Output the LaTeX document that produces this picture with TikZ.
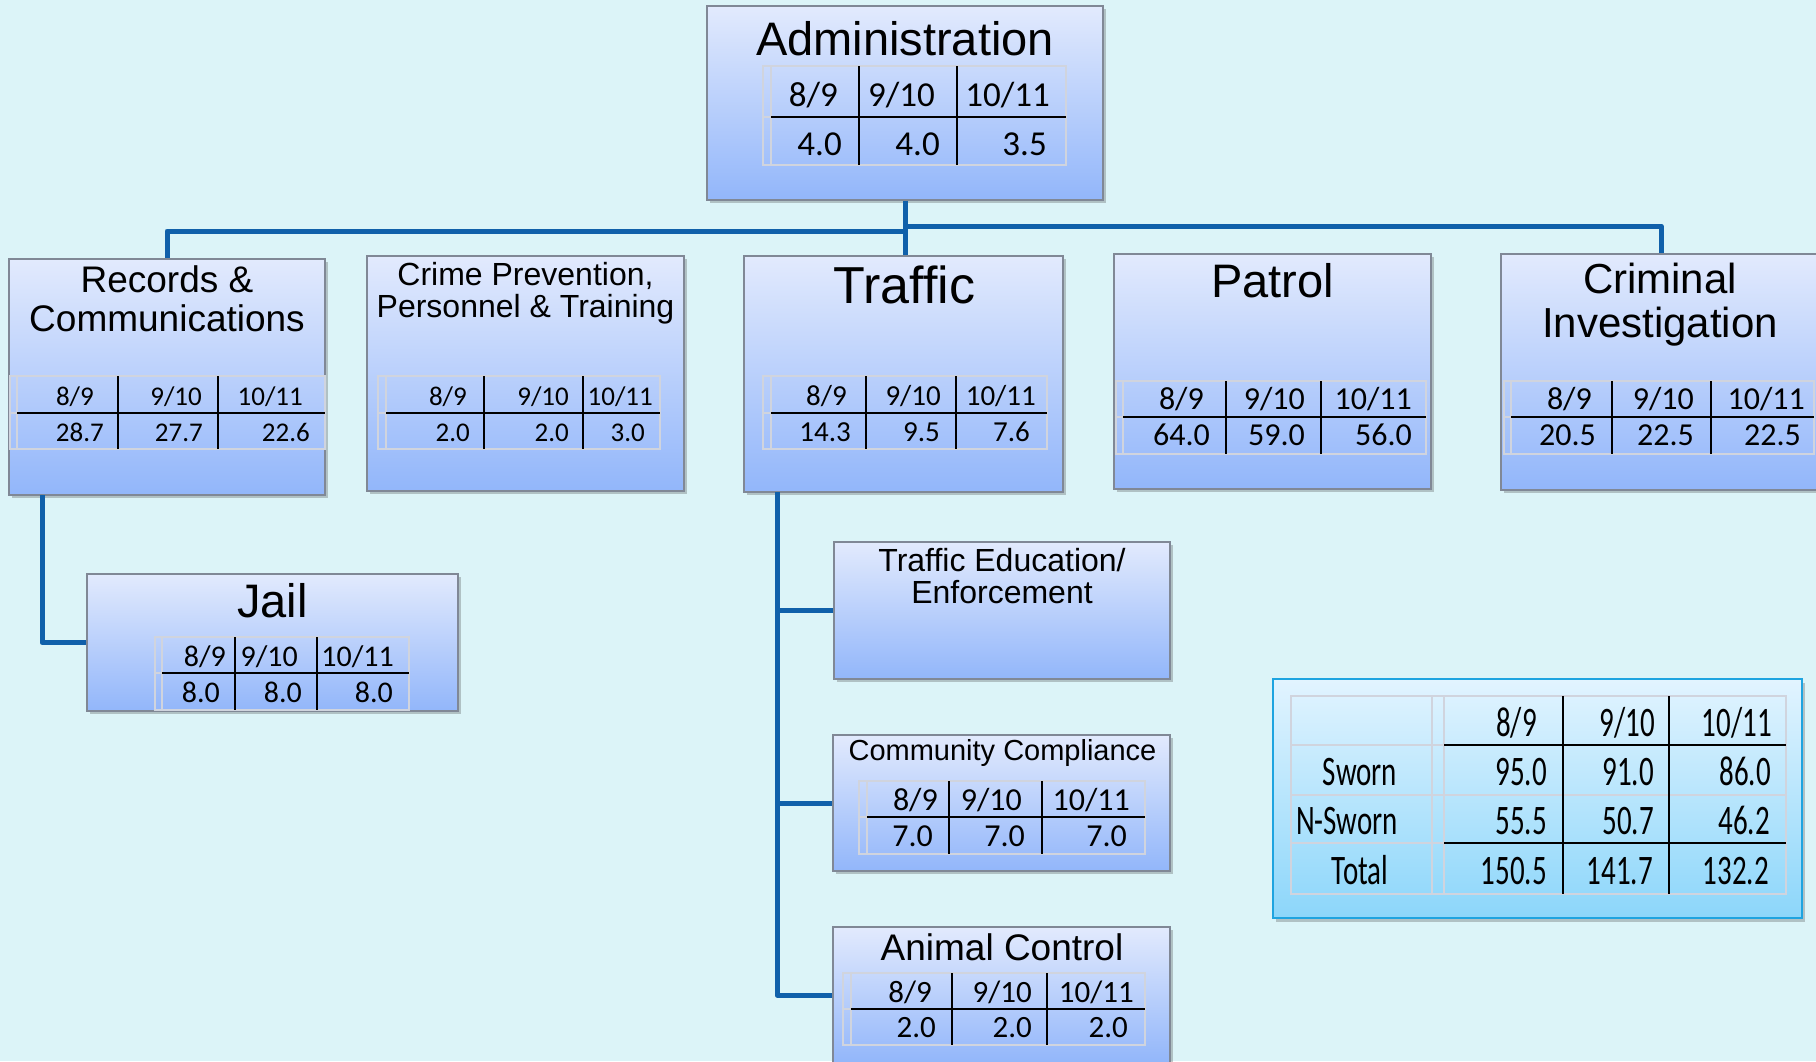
\documentclass[tikz,border=0pt]{standalone}
\usepackage{fontspec}
\setmainfont{Liberation Sans}
\newfontfamily\calf{Carlito}
\usetikzlibrary{shadows}
\definecolor{bgc}{RGB}{220,244,248}
\definecolor{boxtop}{RGB}{226,234,253}
\definecolor{boxbot}{RGB}{146,182,250}
\definecolor{boxline}{RGB}{128,136,150}
\definecolor{connc}{RGB}{16,96,170}
\definecolor{tgray}{RGB}{208,212,222}
\definecolor{sumtop}{RGB}{226,244,255}
\definecolor{sumbot}{RGB}{140,214,250}
\definecolor{sumline}{RGB}{30,164,224}
\tikzset{
  dept/.style={draw=boxline, line width=1.5pt, top color=boxtop, bottom color=boxbot,
    inner sep=0pt, drop shadow={shadow xshift=3pt, shadow yshift=-3pt, opacity=0.3, fill=black!70}},
  sumbox/.style={draw=sumline, line width=2pt, top color=sumtop, bottom color=sumbot,
    inner sep=0pt, drop shadow={shadow xshift=3pt, shadow yshift=-4pt, opacity=0.3, fill=black!70}},
  conn/.style={draw=connc, line width=5pt, line join=round},
  ttl/.style={anchor=base, inner sep=0pt},
  cell/.style={anchor=base east, inner sep=0pt},
  lbl/.style={anchor=base, inner sep=0pt},
  tgrayline/.style={draw=tgray, line width=2pt},
  tblackline/.style={draw=black, line width=2.2pt},
}
% grid: left, narrow col, right, top, mid, bottom, div1, div2
\newcommand\gridtab[8]{%
  \draw[tgrayline] (#1,#4) rectangle (#3,#6);
  \draw[tgrayline] (#2,#4) -- (#2,#6);
  \draw[tgrayline] (#1,#5) -- (#2,#5);
  \draw[tblackline] (#2,#5) -- (#3,#5);
  \draw[tblackline] (#7,#4) -- (#7,#6);
  \draw[tblackline] (#8,#4) -- (#8,#6);
}
% cells: prefix, size, y, x1, t1, x2, t2, x3, t3
\newcommand\cells[9]{%
  \node[cell, font=\calf\fontsize{#2}{#2}\selectfont] (#1a) at (#4,#3) {#5};
  \node[cell, font=\calf\fontsize{#2}{#2}\selectfont] (#1b) at (#6,#3) {#7};
  \node[cell, font=\calf\fontsize{#2}{#2}\selectfont] (#1c) at (#8,#3) {#9};
}
\newcommand\sumtxt[1]{\scalebox{0.69}[1]{#1}}
\begin{document}
\begin{tikzpicture}[x=1pt,y=-1pt]
\path[use as bounding box, fill=bgc] (0,0) rectangle (1816,1061);

% ---------- connector junctions ----------
\coordinate (busL) at (905,231);
\coordinate (busR) at (905,226);
\coordinate (recdrop) at (42,495);
\coordinate (trdrop) at (777,492);

% ---------- boxes ----------
\node[dept, minimum width=396pt, minimum height=194pt] (admin) at (905,103) {};
\node[dept, minimum width=316pt, minimum height=236pt] (records) at (167,377) {};
\node[dept, minimum width=317pt, minimum height=235pt] (crime) at (525.5,373.5) {};
\node[dept, minimum width=319pt, minimum height=236pt] (traffic) at (903.5,374) {};
\node[dept, minimum width=317pt, minimum height=235pt] (patrol) at (1272.5,371.5) {};
\node[dept, minimum width=317pt, minimum height=236pt] (crim) at (1659.5,372) {};
\node[dept, minimum width=371pt, minimum height=137pt] (jail) at (272.5,642.5) {};
\node[dept, minimum width=336pt, minimum height=137pt] (tedu) at (1002,610.5) {};
\node[dept, minimum width=337pt, minimum height=136pt] (cc) at (1001.5,803) {};
\node[dept, minimum width=337pt, minimum height=136pt] (animal) at (1001.5,995) {};
\node[sumbox, minimum width=529pt, minimum height=239pt] (summary) at (1537.5,798.5) {};

% connectors
\draw[conn] (admin.south) -- (admin.south |- traffic.north);
\draw[conn] (busL) -| (records.north);
\draw[conn] (busR) -| ([xshift=1.5pt]crim.north);
\draw[conn] (recdrop) |- (jail.west);
\draw[conn] (trdrop) |- (tedu.west);
\draw[conn] (trdrop) |- (cc.west);
\draw[conn] (trdrop) |- (animal.west);

% ---------- Administration ----------
\node[ttl, font=\fontsize{47}{47}\selectfont] (admint) at (905,55) {Administration};
\gridtab{763}{771}{1066}{66}{117}{165}{859}{957}
\cells{admh}{35}{106}{838}{8/9}{935}{9/10}{1050}{10/11}
\cells{admv}{35}{155}{842}{4.0}{940}{4.0}{1047}{3.5}

% ---------- Records ----------
\node[ttl, font=\fontsize{37}{37}\selectfont] (rect1) at (167,292) {Records \&};
\node[ttl, font=\fontsize{37}{37}\selectfont] (rect2) at (167,331) {Communications};
\gridtab{10}{17}{325}{376}{413}{449}{118}{218}
\cells{rech}{27}{405}{94}{8/9}{202}{9/10}{303}{10/11}
\cells{recv}{27}{441}{104}{28.7}{203}{27.7}{310}{22.6}

% ---------- Crime Prevention ----------
\node[ttl, font=\fontsize{32}{32}\selectfont] (crt1) at (525.5,285) {Crime Prevention,};
\node[ttl, font=\fontsize{32}{32}\selectfont] (crt2) at (525.5,317) {Personnel \& Training};
\gridtab{378}{386}{660}{376}{413}{449}{484}{583}
\cells{crh}{27}{405}{467}{8/9}{569}{9/10}{653}{10/11}
\cells{crv}{27}{441}{470}{2.0}{569}{2.0}{645}{3.0}

% ---------- Traffic ----------
\node[ttl, font=\fontsize{52}{52}\selectfont] (trt) at (904.5,303) {Traffic};
\gridtab{763}{771}{1047}{376}{413}{449}{866}{956}
\cells{trh}{29}{405}{847}{8/9}{941}{9/10}{1036}{10/11}
\cells{trv}{29}{441}{851}{14.3}{940}{9.5}{1030}{7.6}

% ---------- Patrol ----------
\node[ttl, font=\fontsize{47}{47}\selectfont] (pat) at (1272.5,297) {Patrol};
\gridtab{1116}{1123}{1426}{381}{417}{454}{1226}{1321}
\cells{path}{32}{409}{1204}{8/9}{1305}{9/10}{1412}{10/11}
\cells{patv}{32}{445}{1210}{64.0}{1305}{59.0}{1412}{56.0}

% ---------- Criminal Investigation ----------
\node[ttl, font=\fontsize{42}{42}\selectfont] (cit1) at (1660,293) {Criminal};
\node[ttl, font=\fontsize{42}{42}\selectfont] (cit2) at (1660,337) {Investigation};
\gridtab{1504}{1511}{1814}{381}{417}{454}{1612}{1711}
\cells{cih}{32}{409}{1592}{8/9}{1694}{9/10}{1805}{10/11}
\cells{civ}{32}{445}{1596}{20.5}{1694}{22.5}{1801}{22.5}

% ---------- Jail ----------
\node[ttl, font=\fontsize{47}{47}\selectfont] (jat) at (272.5,617) {Jail};
\gridtab{155}{162}{409}{637}{673}{710}{235}{317}
\cells{jah}{30}{666}{226}{8/9}{298}{9/10}{394}{10/11}
\cells{jav}{30}{702}{220}{8.0}{302}{8.0}{393}{8.0}

% ---------- Traffic Education ----------
\node[ttl, font=\fontsize{32}{32}\selectfont] (tet1) at (1002,571) {Traffic Education/};
\node[ttl, font=\fontsize{32}{32}\selectfont] (tet2) at (1002,603) {Enforcement};

% ---------- Community Compliance ----------
\node[ttl, font=\fontsize{29}{29}\selectfont] (cct) at (1002.5,760) {Community Compliance};
\gridtab{859}{867}{1145}{781}{817}{854}{949}{1042}
\cells{cch}{32}{810}{938}{8/9}{1022}{9/10}{1130}{10/11}
\cells{ccv}{32}{846}{933}{7.0}{1025}{7.0}{1127}{7.0}

% ---------- Animal Control ----------
\node[ttl, font=\fontsize{37}{37}\selectfont] (act) at (1002,960) {Animal Control};
\gridtab{843}{851}{1145}{973}{1009}{1045}{952}{1047}
\cells{ach}{31}{1002}{932}{8/9}{1032}{9/10}{1134}{10/11}
\cells{acv}{31}{1037}{936}{2.0}{1032}{2.0}{1128}{2.0}

% ---------- Summary table ----------
\draw[tgrayline] (1291,696) rectangle (1786,894);
\draw[tgrayline] (1291,745) -- (1786,745);
\draw[tgrayline] (1291,795) -- (1786,795);
\draw[tgrayline] (1291,843) -- (1786,843);
\draw[tgrayline] (1432,696) -- (1432,894);
\draw[tgrayline] (1444,696) -- (1444,894);
\draw[tblackline] (1444,745) -- (1786,745);
\draw[tblackline] (1444,843) -- (1786,843);
\draw[tblackline] (1563,696) -- (1563,894);
\draw[tblackline] (1669,696) -- (1669,894);
\begin{scope}[every node/.append style={font=\calf\fontsize{42}{42}\selectfont}]
\node[cell] (sh1) at (1537,736) {\sumtxt{8/9}};
\node[cell] (sh2) at (1655,736) {\sumtxt{9/10}};
\node[cell] (sh3) at (1772,736) {\sumtxt{10/11}};
\node[lbl] (sl1) at (1360,785) {\sumtxt{Sworn}};
\node[cell] (s11) at (1547,785) {\sumtxt{95.0}};
\node[cell] (s12) at (1654,785) {\sumtxt{91.0}};
\node[cell] (s13) at (1771,785) {\sumtxt{86.0}};
\node[lbl] (sl2) at (1347,834) {\sumtxt{N-Sworn}};
\node[cell] (s21) at (1547,834) {\sumtxt{55.5}};
\node[cell] (s22) at (1654,834) {\sumtxt{50.7}};
\node[cell] (s23) at (1770,834) {\sumtxt{46.2}};
\node[lbl] (sl3) at (1360,884) {\sumtxt{Total}};
\node[cell] (s31) at (1547,884) {\sumtxt{150.5}};
\node[cell] (s32) at (1653,884) {\sumtxt{141.7}};
\node[cell] (s33) at (1769,884) {\sumtxt{132.2}};
\end{scope}
\end{tikzpicture}
\end{document}
